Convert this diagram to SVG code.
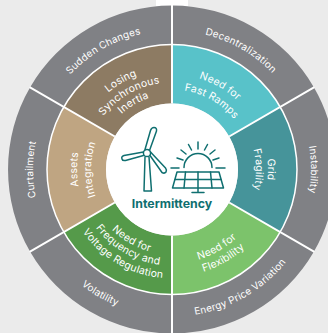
<svg xmlns="http://www.w3.org/2000/svg" width="328" height="333" viewBox="0 0 328 333">
<style>
text{font-family:Inter,"Liberation Sans",sans-serif;font-size:9.9px;font-weight:400;fill:#fff;text-anchor:middle;letter-spacing:.2px}
.i{font-size:10.4px}
.o{fill:#808185}
.ic{fill:none;stroke:#0f6f70;stroke-width:1.5;stroke-linecap:round;stroke-linejoin:round}
.div{stroke:#fff;stroke-width:2;fill:none}
</style>
<defs>
<path id="t139" d="M33 169.5A139 139 0 0 1 311 169.5"/>
<path id="t100" d="M72 169.5A100 100 0 0 1 272 169.5"/>
<path id="t96" d="M76 169.5A96 96 0 0 1 268 169.5"/>
<path id="t95" d="M77 169.5A95 95 0 0 1 267 169.5"/>
<path id="t87" d="M85 169.5A87 87 0 0 1 259 169.5"/>
<path id="t84" d="M88 169.5A84 84 0 0 1 256 169.5"/>
<path id="t81" d="M91 169.5A81 81 0 0 1 253 169.5"/>
<path id="t80" d="M92 169.5A80 80 0 0 1 252 169.5"/>
<path id="t75" d="M97 169.5A75 75 0 0 1 247 169.5"/>
<path id="b147" d="M25 169.5A147 147 0 0 0 319 169.5"/>
<path id="b109" d="M63 169.5A109 109 0 0 0 281 169.5"/>
<path id="b107" d="M65 169.5A107 107 0 0 0 279 169.5"/>
<path id="b96" d="M76 169.5A96 96 0 0 0 268 169.5"/>
<path id="b94" d="M78 169.5A94 94 0 0 0 266 169.5"/>
<path id="b85" d="M87 169.5A85 85 0 0 0 257 169.5"/>
</defs>
<rect width="328" height="333" fill="#ebebeb"/>
<rect x="156" width="32" height="6" fill="#fff"/>
<g id="decentralization"><path class="o" d="M172 5.5A164 164 0 0 1 314 87.5L280.25 107A125 125 0 0 0 172 44.5Z"/><text transform="rotate(30 172 169.5)"><textPath href="#t139" startOffset="50%">Decentralization</textPath></text></g>
<g id="instability"><path class="o" d="M314 87.5A164 164 0 0 1 314 251.5L280.25 232A125 125 0 0 0 280.25 107Z"/><text transform="rotate(90 172 169.5)"><textPath href="#t139" startOffset="50%">Instability</textPath></text></g>
<g id="energy-price-variation"><path class="o" d="M314 251.5A164 164 0 0 1 172 333.5L172 294.5A125 125 0 0 0 280.25 232Z"/><text transform="rotate(-30 172 169.5)"><textPath href="#b147" startOffset="50%">Energy Price Variation</textPath></text></g>
<g id="volatility"><path class="o" d="M172 333.5A164 164 0 0 1 30 251.5L63.75 232A125 125 0 0 0 172 294.5Z"/><text transform="rotate(30 172 169.5)"><textPath href="#b147" startOffset="50%">Volatility</textPath></text></g>
<g id="curtailment"><path class="o" d="M30 251.5A164 164 0 0 1 30 87.5L63.75 107A125 125 0 0 0 63.75 232Z"/><text transform="rotate(-90 172 169.5)"><textPath href="#t139" startOffset="50%">Curtailment</textPath></text></g>
<g id="sudden-changes"><path class="o" d="M30 87.5A164 164 0 0 1 172 5.5L172 44.5A125 125 0 0 0 63.75 107Z"/><text transform="rotate(-30 172 169.5)"><textPath href="#t139" startOffset="50%">Sudden Changes</textPath></text></g>

<g id="fast-ramps"><path fill="#58c2c9" d="M172 44.5A125 125 0 0 1 280.25 107L229.16 136.5A66 66 0 0 0 172 103.5Z"/><text class="i" transform="rotate(30 172 169.5)"><textPath href="#t95" startOffset="50%">Need for</textPath></text><text class="i" transform="rotate(30 172 169.5)"><textPath href="#t80" startOffset="50%">Fast Ramps</textPath></text></g>
<g id="grid-fragility"><path fill="#46949a" d="M280.25 107A125 125 0 0 1 280.25 232L229.16 202.5A66 66 0 0 0 229.16 136.5Z"/><text class="i" transform="rotate(90 172 169.5)"><textPath href="#t96" startOffset="50%">Grid</textPath></text><text class="i" transform="rotate(90 172 169.5)"><textPath href="#t84" startOffset="50%">Fragility</textPath></text></g>
<g id="flexibility"><path fill="#7cc36b" d="M280.25 232A125 125 0 0 1 172 294.5L172 235.5A66 66 0 0 0 229.16 202.5Z"/><text class="i" transform="rotate(-30 172 169.5)"><textPath href="#b94" startOffset="50%">Need for</textPath></text><text class="i" transform="rotate(-30 172 169.5)"><textPath href="#b107" startOffset="50%">Flexibility</textPath></text></g>
<g id="frequency-voltage"><path fill="#559a4a" d="M172 294.5A125 125 0 0 1 63.75 232L114.84 202.5A66 66 0 0 0 172 235.5Z"/><text class="i" transform="rotate(30 172 169.5)"><textPath href="#b85" startOffset="50%">Need for</textPath></text><text class="i" transform="rotate(30 172 169.5)"><textPath href="#b96" startOffset="50%">Frequency and</textPath></text><text class="i" transform="rotate(30 172 169.5)"><textPath href="#b109" startOffset="50%">Voltage Regulation</textPath></text></g>
<g id="assets-integration"><path fill="#bfa582" d="M63.75 232A125 125 0 0 1 63.75 107L114.84 136.5A66 66 0 0 0 114.84 202.5Z"/><text class="i" transform="rotate(-90 172 169.5)"><textPath href="#t95" startOffset="50%">Assets</textPath></text><text class="i" transform="rotate(-90 172 169.5)"><textPath href="#t81" startOffset="50%">Integration</textPath></text></g>
<g id="synchronous-inertia"><path fill="#8d7b63" d="M63.75 107A125 125 0 0 1 172 44.5L172 103.5A66 66 0 0 0 114.84 136.5Z"/><text class="i" transform="rotate(-30 172 169.5)"><textPath href="#t100" startOffset="50%">Losing</textPath></text><text class="i" transform="rotate(-30 172 169.5)"><textPath href="#t87" startOffset="50%">Synchronous</textPath></text><text class="i" transform="rotate(-30 172 169.5)"><textPath href="#t75" startOffset="50%">Inertia</textPath></text></g>

<g id="dividers">
<circle class="div" cx="172" cy="169.5" r="125" style="stroke-width:1.5"/>
<path class="div" d="M172 5V103.5M172 235.5V334M314.4 87.2L229.16 136.5M314.4 251.8L229.16 202.5M29.6 251.8L114.84 202.5M29.6 87.2L114.84 136.5"/>
</g>

<g id="intermittency">
<circle cx="172" cy="169.5" r="66" fill="#fff"/>
<g class="ic">
<circle cx="147" cy="153" r="3.6"/>
<path d="M145 157L144 191H151.500L149 157"/>
<path d="M149.500 150.500L156.500 131Q157 127.500 154 127.500Q151.500 127.500 150.500 130.500L145 149.500"/>
<path d="M143.500 152L124 155.500Q121 156.500 122 159Q122.500 161 125.500 160.500L143.500 155.500"/>
<path d="M150 155.500L162 172.500Q164.500 174 166 172Q167 170 165.500 168L150.500 152"/>
<path d="M184 167.500A14 14 0 0 1 212 167.500"/>
<path d="M171 168H179M216 168H225M198 142V149M188.500 144.500L191.500 150M207.500 144.500L204.500 150M181 150L186 154M215 150L210 154M177 158L183 160M219 158L213 160"/>
<path d="M177 172H219L223.500 188H172.500Z"/>
<path d="M175 179.500H221M185.500 172L184 188M198 172V188M210.500 172L212 188M198 188V192M192 192.500H204"/>
</g>
<text x="172" y="208" style="font-size:12.3px;font-weight:700;fill:#0f6f70;letter-spacing:0">Intermittency</text>
</g>
</svg>
